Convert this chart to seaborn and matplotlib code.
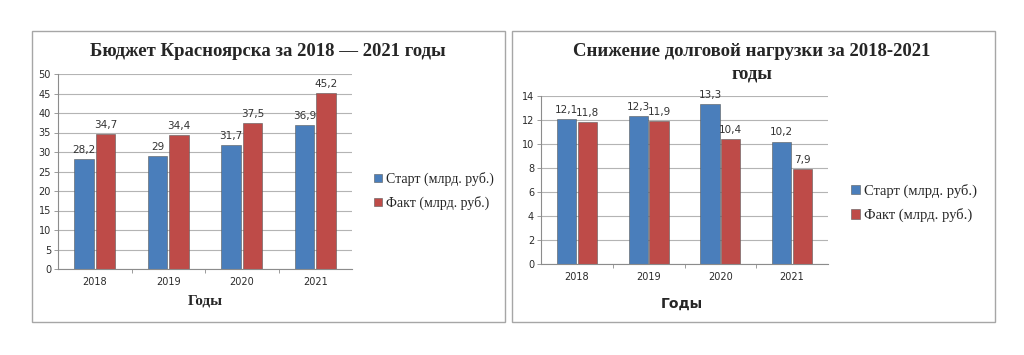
import numpy as np
import pandas as pd
import seaborn as sns
import matplotlib.pyplot as plt
from matplotlib.patches import Rectangle, Patch

# -------- data --------
years = ['2018', '2019', '2020', '2021']
series_names = ['Старт (млрд. руб.)', 'Факт (млрд. руб.)']

budget_start = [28.2, 29, 31.7, 36.9]
budget_fact = [34.7, 34.4, 37.5, 45.2]

debt_start = [12.1, 12.3, 13.3, 10.2]
debt_fact = [11.8, 11.9, 10.4, 7.9]

blue = '#4a7ebb'
red = '#be4b48'

sns.set_theme(style='white')
plt.rcParams['font.family'] = ['DejaVu Sans']


def make_df(start, fact):
    rows = []
    for y, s, f in zip(years, start, fact):
        rows.append({'year': y, 'series': series_names[0], 'value': s})
        rows.append({'year': y, 'series': series_names[1], 'value': f})
    return pd.DataFrame(rows)


def fmt(v):
    return f'{v:g}'.replace('.', ',')


def draw_panel(ax, df, ymax, ystep):
    sns.barplot(data=df, x='year', y='value', hue='series',
                palette=[blue, red], saturation=1, width=0.58, gap=0.08,
                edgecolor='#5a5a5a', linewidth=0.4, ax=ax, legend=False)
    for cont in ax.containers:
        ax.bar_label(cont, labels=[fmt(b.get_height()) for b in cont],
                     padding=3, fontsize=7.5, color='#333333')
    ax.set_ylim(0, ymax)
    ax.set_yticks(np.arange(0, ymax + 0.01, ystep))
    ax.set_xlim(-0.5, 3.5)
    ax.yaxis.grid(True, color='#b4b4b4', linewidth=0.8)
    ax.set_axisbelow(True)
    for side in ['top', 'right']:
        ax.spines[side].set_visible(False)
    for side in ['left', 'bottom']:
        ax.spines[side].set_color('#8c8c8c')
        ax.spines[side].set_linewidth(0.8)
    ax.tick_params(axis='y', labelsize=7, colors='#2a2a2a', length=3,
                   width=0.6, left=True, color='#8c8c8c', pad=2)
    ax.tick_params(axis='x', labelsize=7, colors='#2a2a2a', length=0, pad=6)
    ax.set_xticks([0.5, 1.5, 2.5], minor=True)
    ax.tick_params(axis='x', which='minor', length=3, width=0.6,
                   color='#8c8c8c', bottom=True)
    ax.set_xlabel('')
    ax.set_ylabel('')


fig = plt.figure(figsize=(10.24, 3.55), dpi=100)
fig.patch.set_facecolor('white')

# panel frames
for x0, w in [(32 / 1024, 473 / 1024), (512 / 1024, 483 / 1024)]:
    fig.patches.append(Rectangle((x0, 1 - 322 / 355), w, 291 / 355,
                                 transform=fig.transFigure, fill=False,
                                 edgecolor='#a6a6a6', linewidth=1.0))

handles = [Patch(facecolor=blue, edgecolor='#5a5a5a', linewidth=0.4),
           Patch(facecolor=red, edgecolor='#5a5a5a', linewidth=0.4)]

# -------- left chart --------
ax1 = fig.add_axes([58 / 1024, 1 - 269 / 355, 294 / 1024, 195 / 355])
draw_panel(ax1, make_df(budget_start, budget_fact), 50, 5)
fig.text(268 / 1024, 1 - 52 / 355, 'Бюджет Красноярска за 2018 — 2021 годы',
         ha='center', va='center', fontsize=13.5, fontweight='bold',
         family='Liberation Serif')
fig.text(205 / 1024, 1 - 301 / 355, 'Годы', ha='center', va='center',
         fontsize=11, fontweight='bold', family='Liberation Serif')
fig.legend(handles, series_names, loc='center left',
           bbox_to_anchor=(368 / 1024, 1 - 191 / 355), frameon=False,
           prop={'family': 'Liberation Serif', 'size': 10},
           handlelength=0.6, handleheight=0.6, handletextpad=0.3,
           labelspacing=0.7, borderaxespad=0)

# -------- right chart --------
ax2 = fig.add_axes([541 / 1024, 1 - 264 / 355, 287 / 1024, 168 / 355])
draw_panel(ax2, make_df(debt_start, debt_fact), 14, 2)
fig.text(752 / 1024, 1 - 52 / 355, 'Снижение долговой нагрузки за 2018-2021',
         ha='center', va='center', fontsize=13.5, fontweight='bold',
         family='Liberation Serif')
fig.text(752 / 1024, 1 - 74 / 355, 'годы',
         ha='center', va='center', fontsize=13.5, fontweight='bold',
         family='Liberation Serif')
fig.text(682 / 1024, 1 - 304 / 355, 'Годы', ha='center', va='center',
         fontsize=10, fontweight='bold', family='DejaVu Sans')
fig.legend(handles, series_names, loc='center left',
           bbox_to_anchor=(845 / 1024, 1 - 203 / 355), frameon=False,
           prop={'family': 'Liberation Serif', 'size': 10.5},
           handlelength=0.6, handleheight=0.6, handletextpad=0.3,
           labelspacing=0.7, borderaxespad=0)

fig.savefig('out.png', dpi=100, facecolor='white')
